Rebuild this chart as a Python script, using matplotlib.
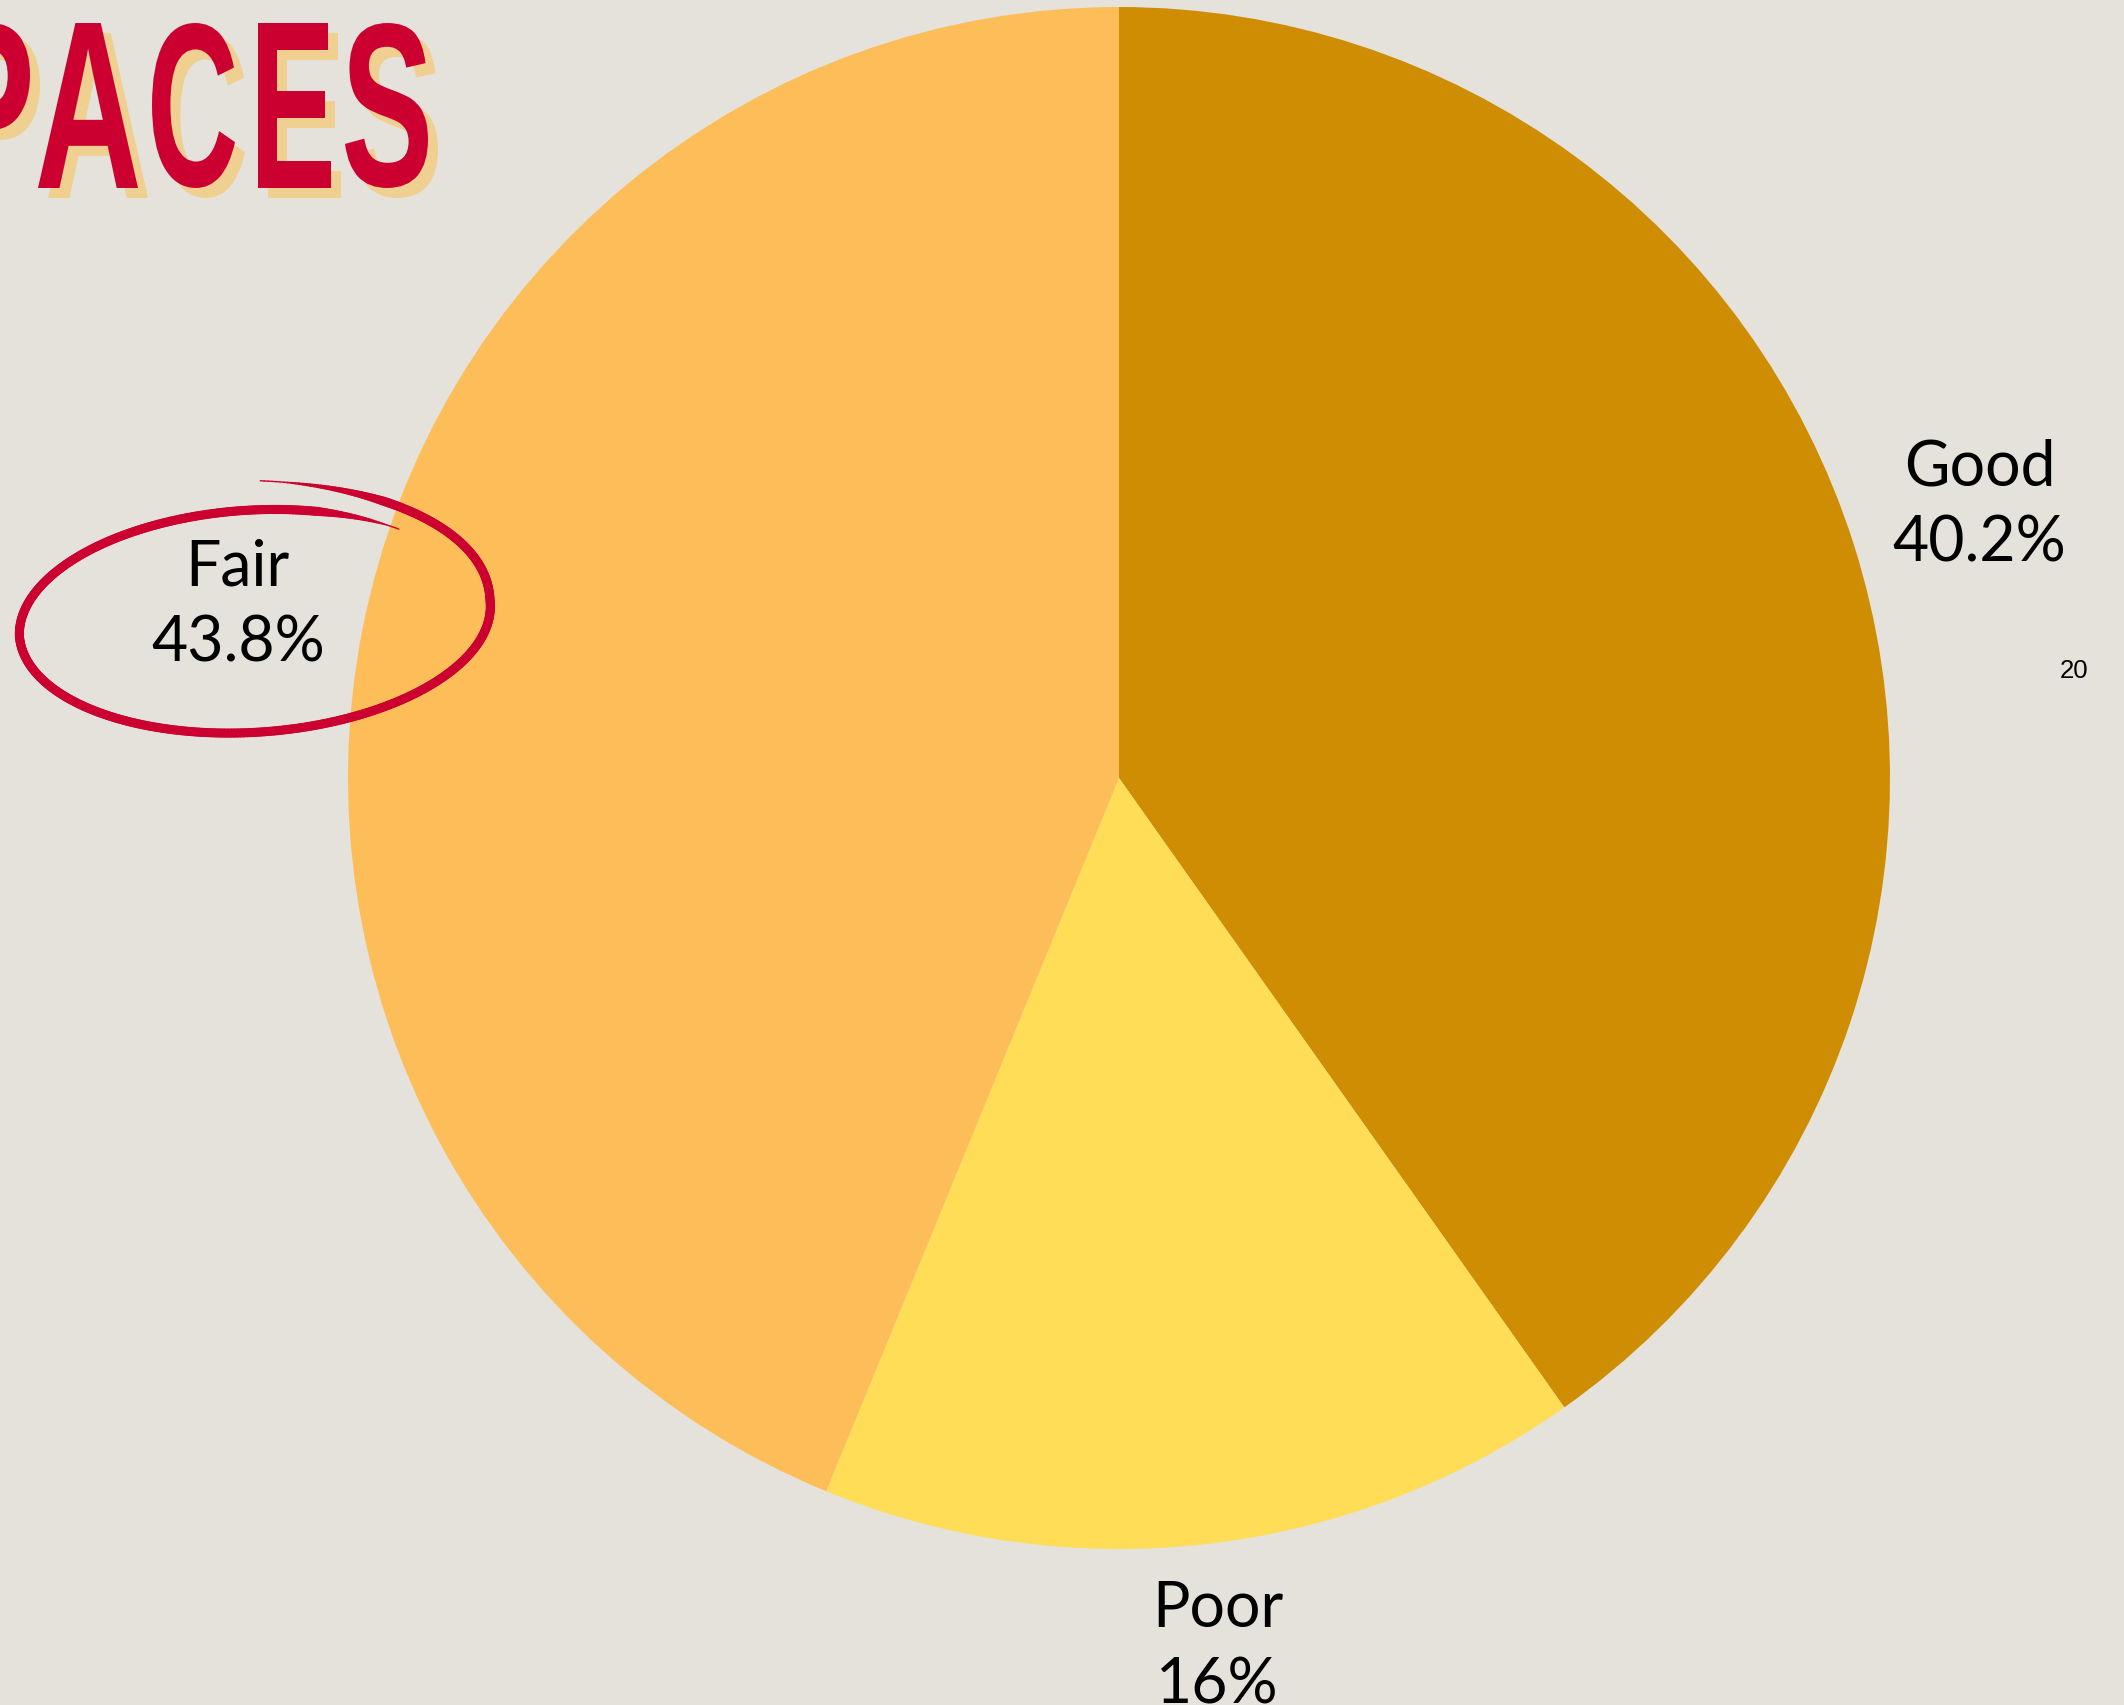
import numpy as np
import matplotlib
matplotlib.use("Agg")
import matplotlib.pyplot as plt
from matplotlib.textpath import TextPath
from matplotlib.patches import PathPatch
from matplotlib.font_manager import FontProperties
from matplotlib.transforms import Affine2D
from matplotlib.collections import LineCollection

# data
labels = ["Good", "Poor", "Fair"]
shares = [40.2, 16, 43.8]
share_text = ["40.2%", "16%", "43.8%"]
colors = ["#CF8D04", "#FFDD57", "#FDBD59"]
title_letters = ["P", "A", "C", "E", "S"]
corner_note = "20"

W, H = 2124, 1706
bg = "#E5E2DB"
red = "#CC0030"
shadow = "#F0D090"

fig = plt.figure(figsize=(W / 100, H / 100), dpi=100, facecolor=bg)

# pie axes (pixel centre / radius of the circle)
cx, cy, R = 1119, H - 779, 771
ax = fig.add_axes([(cx - R) / W, (cy - R) / H, 2 * R / W, 2 * R / H])
ax.pie(shares, colors=colors, startangle=90, counterclock=False, radius=1,
       wedgeprops=dict(linewidth=0))
ax.set_xlim(-1, 1)
ax.set_ylim(-1, 1)
ax.axis("off")

# overlay in pixel coords for labels and decorations
deco = fig.add_axes([0, 0, 1, 1], zorder=5)
deco.set_xlim(0, W)
deco.set_ylim(0, H)
deco.axis("off")
deco.patch.set_alpha(0)

renderer = fig.canvas.get_renderer()
total = sum(shares)
start = 90.0
label_pos = {}
for lab, val, txt in zip(labels, shares, share_text):
    sweep = val / total * 360
    mid = np.radians(start - sweep / 2)
    start -= sweep
    ux, uy = np.cos(mid), np.sin(mid)
    t = deco.text(0, 0, lab + "\n" + txt, ha="center", va="center",
                  fontsize=45, family=["Lato", "DejaVu Sans"], linespacing=1.38,
                  color="black", zorder=10)
    bb = t.get_window_extent(renderer)
    d = R + 29 + abs(bb.width / 2 * ux) + abs(bb.height / 2 * uy)
    t.set_position((cx + d * ux, cy + d * uy))
    label_pos[lab] = (cx + d * ux, cy + d * uy)

# hand-drawn loop around the Fair label
fx, fy = label_pos["Fair"]
ecx, ecy = fx + 17, fy - 15
tt = np.radians(np.linspace(87, -312, 500))
s = np.where(tt > 0, 1 + 0.22 * (np.clip(tt, 0, None) / np.radians(87)) ** 1.5, 1.0)
s = s - 0.05 * np.clip((-tt - np.radians(180)) / np.radians(132), 0, 1)
ex = s * 236 * np.cos(tt)
ey = s * 113 * np.sin(tt)
rot = np.radians(4)
px = ecx + ex * np.cos(rot) - ey * np.sin(rot)
py = ecy + ex * np.sin(rot) + ey * np.cos(rot)
pts = np.column_stack([px, py]).reshape(-1, 1, 2)
segs = np.concatenate([pts[:-1], pts[1:]], axis=1)
prog = np.linspace(0, 1, len(segs))
taper = np.minimum(np.clip(prog / 0.07, 0.15, 1), np.clip((1 - prog) / 0.06, 0.15, 1))
lc = LineCollection(segs, colors=red, linewidths=6.5 * taper, capstyle="round", zorder=8)
deco.add_collection(lc)

# title fragment with offset shadow, each letter fitted to its slot
fp = FontProperties(family=["Liberation Sans Narrow", "Liberation Sans"], weight="bold")
slots = [(-57, 30), (38, 138), (152, 235), (258, 331), (345, 428)]
top, bottom = H - 24, H - 189
for ch, (x0, x1) in zip(title_letters, slots):
    tp = TextPath((0, 0), ch, size=100, prop=fp)
    ext = tp.get_extents()
    tr = (Affine2D().translate(-ext.x0, -ext.y0)
          .scale((x1 - x0) / ext.width, (top - bottom) / ext.height)
          .translate(x0, bottom))
    path = tr.transform_path(tp)
    deco.add_patch(PathPatch(path, fc=shadow, ec="none", zorder=6,
                             transform=Affine2D().translate(10, -10) + deco.transData))
    deco.add_patch(PathPatch(path, fc=red, ec="none", zorder=7))

deco.text(2074, H - 671, corner_note, ha="center", va="center", fontsize=18.5,
          family=["Liberation Sans", "DejaVu Sans"], color="black")

fig.savefig("out.png", dpi=100, facecolor=bg)
